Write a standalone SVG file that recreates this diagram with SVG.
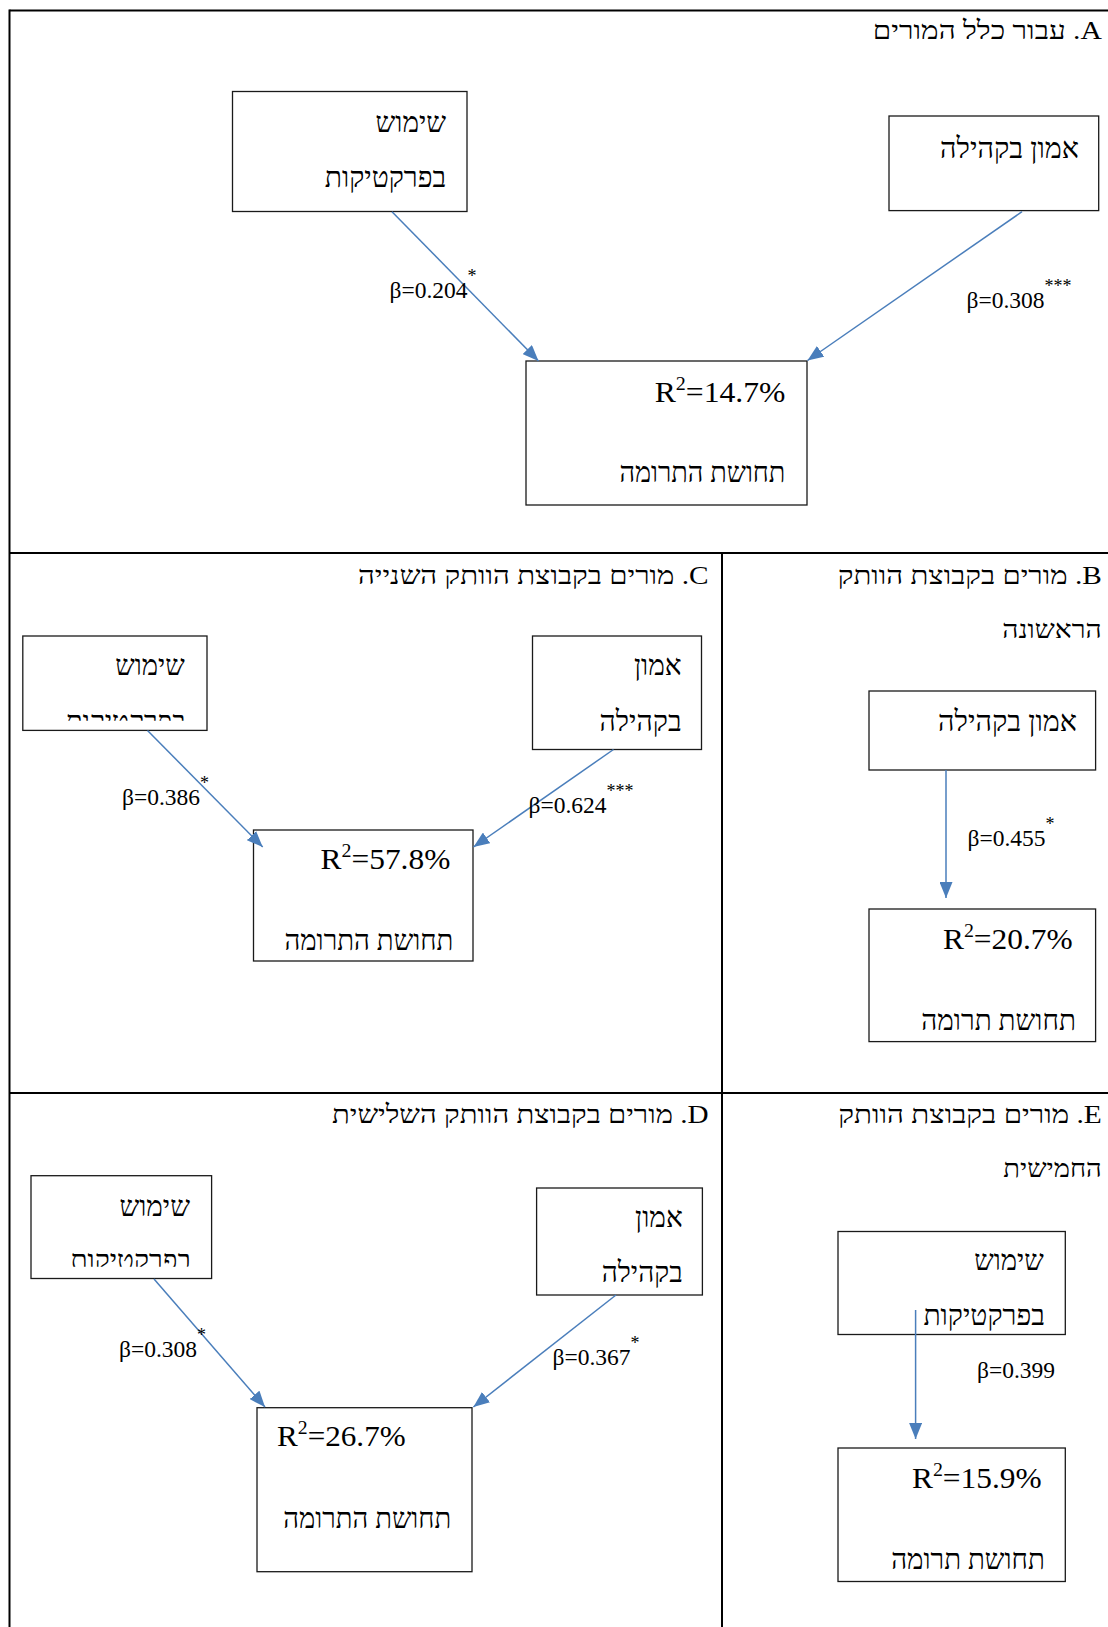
<svg xmlns="http://www.w3.org/2000/svg" width="1108" height="1627" viewBox="0 0 1108 1627">
<style>
text{font-family:"Liberation Serif","DejaVu Serif","DejaVu Sans",serif;fill:#000}
.ttl{font-size:26px}
.heb{font-size:29px}
.r2{font-size:30px}
.beta{font-size:23.5px}
.rtl{direction:rtl;text-anchor:start}
.box{fill:#fff;stroke:#1a1a1a;stroke-width:1.3}
.grid{stroke:#000;stroke-width:2;fill:none}
.conn line{stroke:#4a7ebb;stroke-width:1.5;marker-end:url(#ah)}
</style>
<defs>
<marker id="ah" markerUnits="userSpaceOnUse" markerWidth="17" markerHeight="13" refX="16" refY="6.5" orient="auto">
<path d="M0,0 L16,6.5 L0,13 Z" fill="#4a7ebb"/>
</marker>
<clipPath id="clipC"><rect x="23" y="636" width="184" height="84.7"/></clipPath>
<clipPath id="clipD"><rect x="31" y="1176" width="180" height="90.8"/></clipPath>
</defs>
<rect width="1108" height="1627" fill="#fff"/>
<g id="table">
<line class="grid" x1="9.5" y1="10.5" x2="1108" y2="10.5"/>
<line class="grid" x1="9.5" y1="9.5" x2="9.5" y2="1627"/>
<line class="grid" x1="9.5" y1="553" x2="1108" y2="553"/>
<line class="grid" x1="9.5" y1="1093" x2="1108" y2="1093"/>
<line class="grid" x1="722" y1="553" x2="722" y2="1627"/>
</g>
<g id="titles">
<text class="ttl rtl" x="1101.8" y="39.4" textLength="229" lengthAdjust="spacingAndGlyphs">A. עבור כלל המורים</text>
<text class="ttl rtl" x="1101.8" y="584" textLength="264" lengthAdjust="spacingAndGlyphs">B. מורים בקבוצת הוותק</text>
<text class="ttl rtl" x="1101.8" y="638" textLength="99.6" lengthAdjust="spacingAndGlyphs">הראשונה</text>
<text class="ttl rtl" x="708.6" y="584" textLength="350.7" lengthAdjust="spacingAndGlyphs">C. מורים בקבוצת הוותק השנייה</text>
<text class="ttl rtl" x="708.6" y="1123" textLength="376.6" lengthAdjust="spacingAndGlyphs">D. מורים בקבוצת הוותק השלישית</text>
<text class="ttl rtl" x="1101.8" y="1123" textLength="263.5" lengthAdjust="spacingAndGlyphs">E. מורים בקבוצת הוותק</text>
<text class="ttl rtl" x="1101.8" y="1176.5" textLength="98.5" lengthAdjust="spacingAndGlyphs">החמישית</text>
</g>
<g id="A-practices">
<rect class="box" x="232.5" y="91.5" width="234.5" height="120"/>
<text class="heb rtl" x="446.1" y="131.8" textLength="70.5" lengthAdjust="spacingAndGlyphs">שימוש</text>
<text class="heb rtl" x="446.1" y="186.7" textLength="121.4" lengthAdjust="spacingAndGlyphs">בפרקטיקות</text>
</g>
<g id="A-trust">
<rect class="box" x="889" y="116" width="209.7" height="94.6"/>
<text class="heb rtl" x="1079" y="157.7" textLength="139" lengthAdjust="spacingAndGlyphs">אמון בקהילה</text>
</g>
<g id="A-contribution">
<rect class="box" x="526" y="361" width="281" height="144"/>
<text class="r2" x="654.7" y="401.5" textLength="130.7" lengthAdjust="spacingAndGlyphs">R<tspan dy="-12" font-size="19">2</tspan><tspan dy="12">=14.7%</tspan></text>
<text class="heb rtl" x="785.4" y="482.4" textLength="166" lengthAdjust="spacingAndGlyphs">תחושת התרומה</text>
</g>
<g id="B-trust">
<rect class="box" x="869" y="691" width="226.6" height="79"/>
<text class="heb rtl" x="1077" y="731.4" textLength="139" lengthAdjust="spacingAndGlyphs">אמון בקהילה</text>
</g>
<g id="B-contribution">
<rect class="box" x="869" y="909" width="226.6" height="132.6"/>
<text class="r2" x="943" y="949.3" textLength="129.7" lengthAdjust="spacingAndGlyphs">R<tspan dy="-12" font-size="19">2</tspan><tspan dy="12">=20.7%</tspan></text>
<text class="heb rtl" x="1075.9" y="1030" textLength="154.6" lengthAdjust="spacingAndGlyphs">תחושת תרומה</text>
</g>
<g id="C-practices">
<rect class="box" x="22.8" y="636" width="184.2" height="94.4"/>
<text class="heb rtl" x="184.7" y="675.4" textLength="69.5" lengthAdjust="spacingAndGlyphs">שימוש</text>
<text class="heb rtl" x="185.7" y="731" textLength="120" lengthAdjust="spacingAndGlyphs" clip-path="url(#clipC)">בפרקטיקות</text>
</g>
<g id="C-trust">
<rect class="box" x="532.5" y="636" width="169" height="113.5"/>
<text class="heb rtl" x="681.6" y="675.4" textLength="47.7" lengthAdjust="spacingAndGlyphs">אמון</text>
<text class="heb rtl" x="681.6" y="731.4" textLength="82" lengthAdjust="spacingAndGlyphs">בקהילה</text>
</g>
<g id="C-contribution">
<rect class="box" x="253.5" y="830" width="219.5" height="131"/>
<text class="r2" x="320.6" y="869.4" textLength="129.7" lengthAdjust="spacingAndGlyphs">R<tspan dy="-12" font-size="19">2</tspan><tspan dy="12">=57.8%</tspan></text>
<text class="heb rtl" x="453.4" y="950.3" textLength="169" lengthAdjust="spacingAndGlyphs">תחושת התרומה</text>
</g>
<g id="D-practices">
<rect class="box" x="31" y="1175.7" width="180.6" height="102.8"/>
<text class="heb rtl" x="189.9" y="1216" textLength="70.5" lengthAdjust="spacingAndGlyphs">שימוש</text>
<text class="heb rtl" x="190.9" y="1269.5" textLength="120.4" lengthAdjust="spacingAndGlyphs" clip-path="url(#clipD)">בפרקטיקות</text>
</g>
<g id="D-trust">
<rect class="box" x="536.6" y="1188" width="165.8" height="107"/>
<text class="heb rtl" x="682.7" y="1227.4" textLength="47.7" lengthAdjust="spacingAndGlyphs">אמון</text>
<text class="heb rtl" x="682.7" y="1282.4" textLength="81" lengthAdjust="spacingAndGlyphs">בקהילה</text>
</g>
<g id="D-contribution">
<rect class="box" x="257" y="1407.7" width="215" height="164"/>
<text class="r2" x="277" y="1446.3" textLength="128.7" lengthAdjust="spacingAndGlyphs">R<tspan dy="-12" font-size="19">2</tspan><tspan dy="12">=26.7%</tspan></text>
<text class="heb rtl" x="451.3" y="1528.2" textLength="168" lengthAdjust="spacingAndGlyphs">תחושת התרומה</text>
</g>
<g id="E-practices">
<rect class="box" x="838" y="1231.5" width="227.3" height="103"/>
<text class="heb rtl" x="1043.7" y="1270" textLength="69.5" lengthAdjust="spacingAndGlyphs">שימוש</text>
<text class="heb rtl" x="1044.8" y="1324.9" textLength="121.4" lengthAdjust="spacingAndGlyphs">בפרקטיקות</text>
</g>
<g id="E-contribution">
<rect class="box" x="838" y="1448" width="227.3" height="133.5"/>
<text class="r2" x="912" y="1487.8" textLength="129.6" lengthAdjust="spacingAndGlyphs">R<tspan dy="-12" font-size="19">2</tspan><tspan dy="12">=15.9%</tspan></text>
<text class="heb rtl" x="1044.8" y="1568.7" textLength="153.6" lengthAdjust="spacingAndGlyphs">תחושת תרומה</text>
</g>
<g class="conn" id="connectors">
<line x1="392" y1="211.7" x2="538.5" y2="361"/>
<line x1="1022" y1="211.7" x2="807.5" y2="360.5"/>
<line x1="946" y1="770" x2="946" y2="898"/>
<line x1="147.5" y1="730.5" x2="262.7" y2="847"/>
<line x1="613.5" y1="749.5" x2="473.5" y2="847"/>
<line x1="154" y1="1279" x2="265" y2="1407"/>
<line x1="616" y1="1295" x2="473.4" y2="1407"/>
<line x1="915.6" y1="1310" x2="915.6" y2="1439"/>
</g>
<g id="labels">
<text class="beta" x="389.5" y="297.8">β=0.204<tspan dy="-16" font-size="18">*</tspan></text>
<text class="beta" x="966.5" y="308">β=0.308<tspan dy="-16" font-size="18">***</tspan></text>
<text class="beta" x="967.5" y="845.6">β=0.455<tspan dy="-16" font-size="18">*</tspan></text>
<text class="beta" x="122" y="805">β=0.386<tspan dy="-16" font-size="18">*</tspan></text>
<text class="beta" x="528.5" y="813.4">β=0.624<tspan dy="-16" font-size="18">***</tspan></text>
<text class="beta" x="119" y="1357">β=0.308<tspan dy="-16" font-size="18">*</tspan></text>
<text class="beta" x="552.5" y="1365.3">β=0.367<tspan dy="-16" font-size="18">*</tspan></text>
<text class="beta" x="977" y="1377.8">β=0.399</text>
</g>
</svg>
